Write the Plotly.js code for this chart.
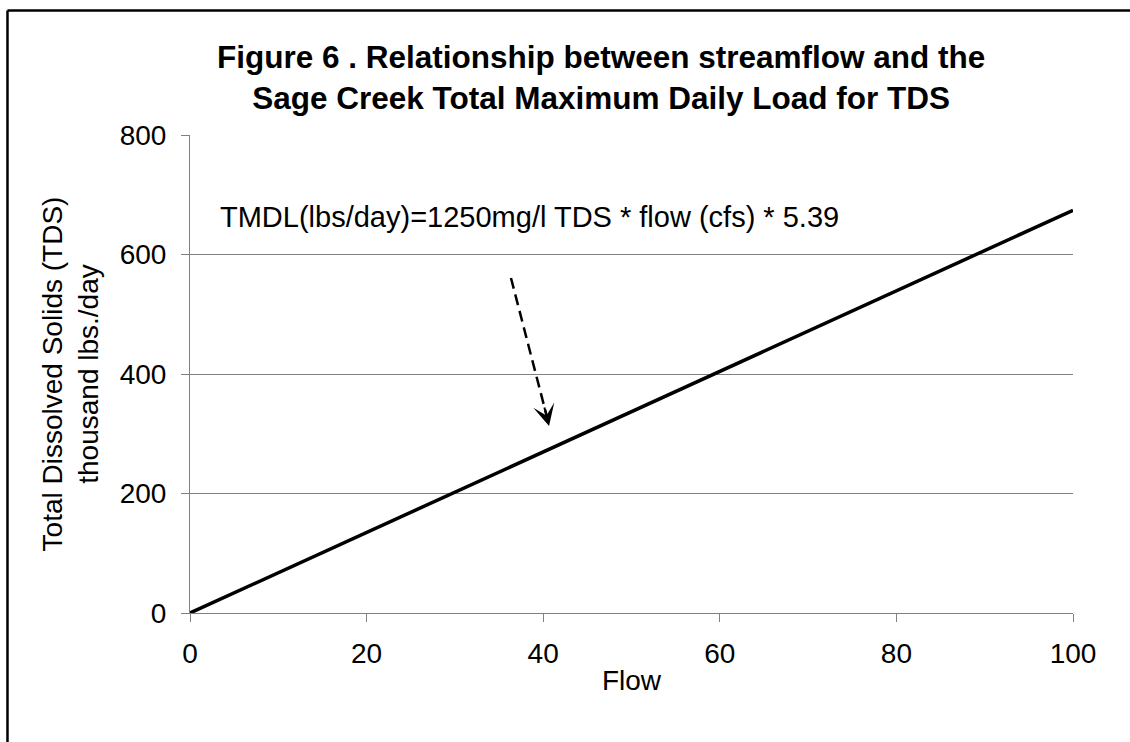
<!DOCTYPE html>
<html>
<head>
<meta charset="utf-8">
<script src="https://cdn.plot.ly/plotly-3.0.1.min.js"></script>
<style>
  html, body { margin: 0; padding: 0; background: #fff; }
  #chart { width: 1130px; height: 742px; }
</style>
</head>
<body>
<div id="chart"></div>
<script>
// Data
const flow = [0, 30, 60, 89, 100];
const tdsLoad = [0, 202, 404, 600, 674];

const xTicks = [0, 20, 40, 60, 80, 100];
const yTicks = [0, 200, 400, 600, 800];

const titleText = '<b>Figure 6 . Relationship between streamflow and the<br>Sage Creek Total Maximum Daily Load for TDS</b>';
const yTitleText = 'Total Dissolved Solids (TDS)<br>thousand lbs./day';
const xTitleText = 'Flow';
const noteText = 'TMDL(lbs/day)=1250mg/l TDS * flow (cfs) * 5.39';

// annotation arrow (data coordinates)
const arrowStart = [36.35, 560.7];
const arrowTip = [40.66, 313];
const arrowDashEnd = [40.43, 328];

const FONT = 'Liberation Sans, Arial, sans-serif';
const GRID = '#808080';

const trace = {
  x: flow,
  y: tdsLoad,
  type: 'scatter',
  mode: 'lines',
  line: { color: '#000000', width: 3.5 },
  hoverinfo: 'skip',
  showlegend: false
};

const layout = {
  width: 1130,
  height: 742,
  margin: { l: 190, r: 57, t: 135, b: 129 },
  paper_bgcolor: '#ffffff',
  plot_bgcolor: '#ffffff',
  font: { family: FONT, size: 28, color: '#000000' },
  title: {
    text: titleText,
    font: { family: FONT, size: 31.5, color: '#000000' },
    x: 0.532, xref: 'container', xanchor: 'center',
    y: 1 - 68 / 742, yref: 'container', yanchor: 'top'
  },
  xaxis: {
    range: [0, 100],
    tickvals: xTicks,
    ticktext: xTicks.map(String),
    showgrid: false,
    zeroline: false,
    showline: true,
    linecolor: GRID,
    linewidth: 1,
    ticks: 'outside',
    ticklen: 8,
    tickcolor: GRID,
    ticklabelstandoff: 7,
    tickfont: { family: FONT, size: 28, color: '#000' },
    title: { text: xTitleText, font: { family: FONT, size: 28, color: '#000' }, standoff: 2 },
    fixedrange: true
  },
  yaxis: {
    range: [0, 800],
    tickvals: yTicks,
    ticktext: yTicks.map(String),
    showgrid: true,
    gridcolor: GRID,
    gridwidth: 1,
    zeroline: false,
    showline: true,
    linecolor: GRID,
    linewidth: 1,
    ticks: 'outside',
    ticklen: 8,
    tickcolor: GRID,
    ticklabelstandoff: 9,
    tickfont: { family: FONT, size: 28, color: '#000' },
    title: { text: yTitleText, font: { family: FONT, size: 28, color: '#000' }, standoff: 12 },
    fixedrange: true
  },
  shapes: [
    // outer frame (left and top edges)
    { type: 'line', xref: 'paper', yref: 'paper', x0: -0.2067, x1: -0.2067, y0: -0.4, y1: 1.2605,
      line: { color: '#000', width: 2.5 } },
    { type: 'line', xref: 'paper', yref: 'paper', x0: -0.2067, x1: 1.2, y0: 1.2605, y1: 1.2605,
      line: { color: '#000', width: 2.5 } },
    // dashed arrow shaft
    { type: 'line', xref: 'x', yref: 'y', x0: arrowStart[0], y0: arrowStart[1], x1: arrowDashEnd[0], y1: arrowDashEnd[1],
      line: { color: '#000', width: 2.5, dash: '11px,6px' } }
  ],
  annotations: [
    {
      text: noteText,
      xref: 'x', yref: 'y', x: 3.2, y: 662,
      xanchor: 'left', yanchor: 'middle',
      showarrow: false,
      font: { family: FONT, size: 29, color: '#000' }
    },
    {
      text: '',
      xref: 'x', yref: 'y', x: arrowTip[0], y: arrowTip[1],
      ax: -5, ay: -20,
      showarrow: true,
      arrowhead: 3, arrowsize: 1.8, arrowwidth: 2, arrowcolor: '#000'
    }
  ]
};

Plotly.newPlot('chart', [trace], layout, { staticPlot: true, displayModeBar: false });
</script>
</body>
</html>
